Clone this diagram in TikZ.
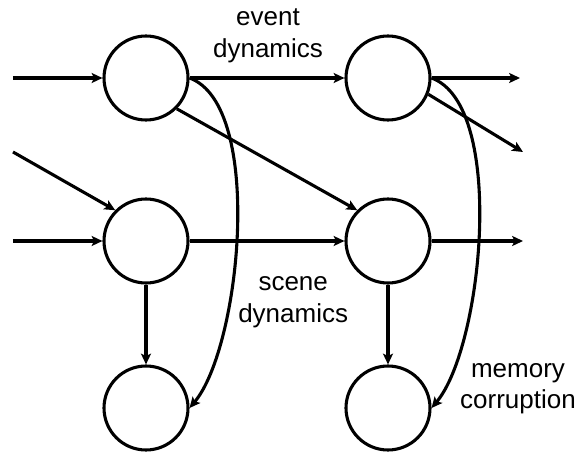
\documentclass[tikz,border=0pt]{standalone}
\usepackage{fontspec}
\setmainfont{Liberation Sans}
\usetikzlibrary{arrows.meta}

\begin{document}
\begin{tikzpicture}[
  state/.style={circle, draw, line width=2.2pt, minimum size=2.1cm, inner sep=0pt},
  lbl/.style={align=center, font=\fontsize{18.5}{22.5}\selectfont},
  link/.style={line width=2.2pt, ->},
  >={Stealth[length=2.7mm,width=2.5mm,inset=0.6mm]}
]
\useasboundingbox (0,0) rectangle (14.425,-11.375);
% states
\node [state] (tl) at (3.65,-1.95) {};
\node [state] (tr) at (9.7,-1.95) {};
\node [state] (ml) at (3.65,-6.025) {};
\node [state] (mr) at (9.7,-6.025) {};
\node [state] (bl) at (3.65,-10.2) {};
\node [state] (br) at (9.7,-10.2) {};
% free ends
\coordinate (in1) at (0.325,-1.95);
\coordinate (in2) at (0.325,-3.8);
\coordinate (in3) at (0.325,-6.025);
\coordinate (out1) at (13,-1.95);
\coordinate (out2) at (13.075,-3.8);
\coordinate (out3) at (13.075,-6.025);
% labels
\node [lbl] (ev) at (6.7,-0.9) {event\\dynamics};
\node [lbl] (sc) at (7.33,-7.55) {scene\\dynamics};
\node [lbl] (mem) at (12.95,-9.72) {memory\\corruption};
% connections
\draw [link] (in1) -- (tl);
\draw [link] (in2) -- (ml.north west);
\draw [link] (in3) -- (ml);
\draw [link] (tl) -- (tr);
\draw [link] (tl.south east) -- (mr.north west);
\draw [link] (ml) -- (mr);
\draw [link] (tr) -- (out1);
\draw [link] (tr.-22) -- (out2);
\draw [link] (mr) -- (out3);
\draw [link] (ml) -- (bl);
\draw [link] (mr) -- (br);
\draw [link] (tl.east) to[out=-20, in=50, looseness=0.62] (bl.east);
\draw [link] (tr.east) to[out=-20, in=50, looseness=0.62] (br.east);
\end{tikzpicture}
\end{document}
